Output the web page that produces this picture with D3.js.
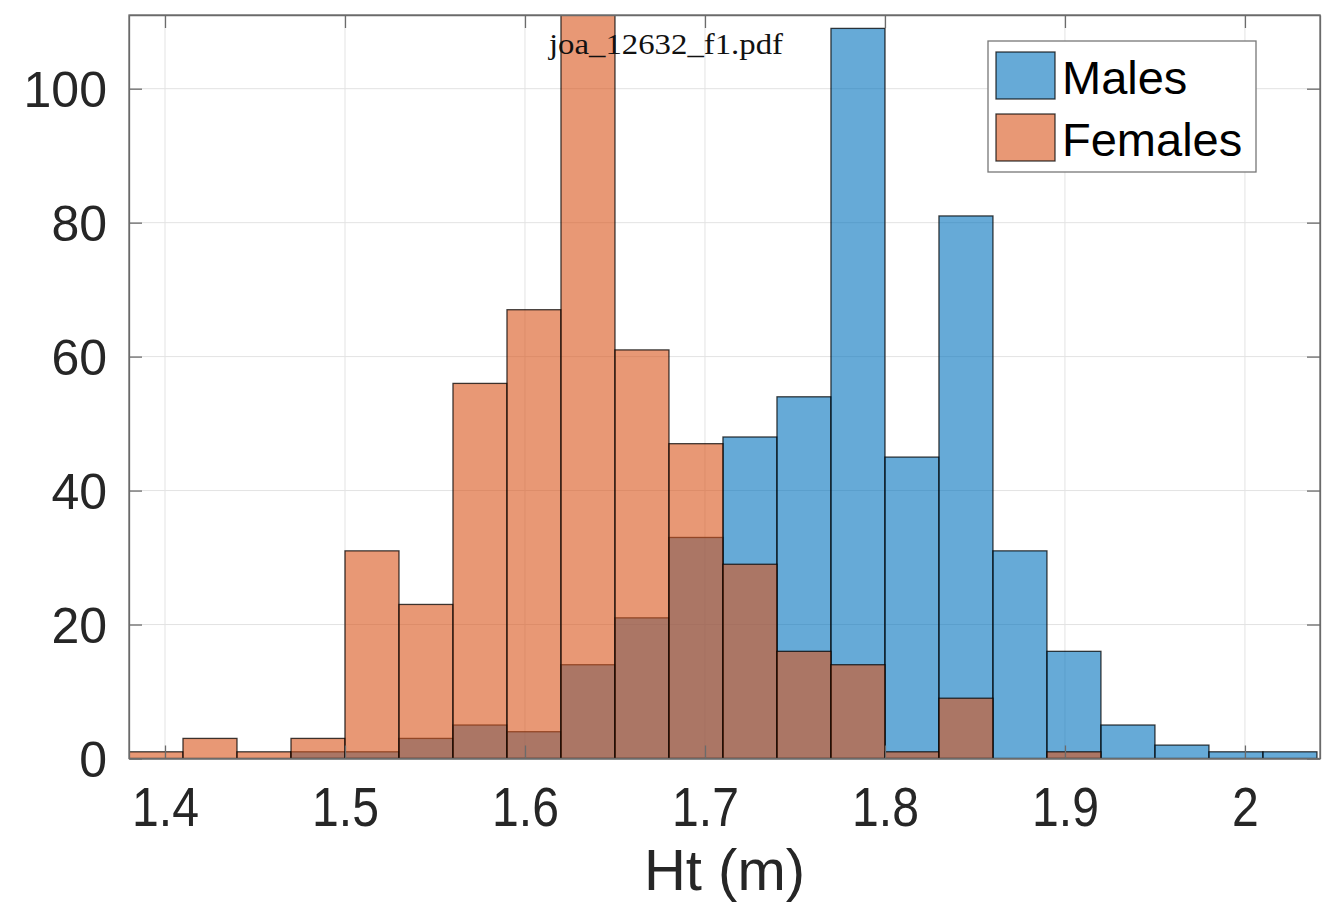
<!DOCTYPE html>
<html>
<head>
<meta charset="utf-8">
<script src="https://cdn.jsdelivr.net/npm/d3@7"></script>
<style>
  body { margin: 0; background: #fff; }
  svg { display: block; font-family: "Liberation Sans", Arial, sans-serif; }
</style>
</head>
<body>
<div id="viz"></div>
<script>
// bin left edges (m), bin width 0.03
const binStarts = [1.38, 1.41, 1.44, 1.47, 1.50, 1.53, 1.56, 1.59, 1.62, 1.65, 1.68,
                   1.71, 1.74, 1.77, 1.80, 1.83, 1.86, 1.89, 1.92, 1.95, 1.98, 2.01];
const binWidth = 0.03;
const males   = [0, 0, 0, 1, 1, 3, 5, 4, 14, 21, 33, 48, 54, 109, 45, 81, 31, 16, 5, 2, 1, 1];
const females = [1, 3, 1, 3, 31, 23, 56, 67, 118, 61, 47, 29, 16, 14, 1, 9, 0, 1, 0, 0, 0, 0];
const seriesNames = ['Males', 'Females'];
const xTicks = [1.4, 1.5, 1.6, 1.7, 1.8, 1.9, 2.0];
const yTicks = [0, 20, 40, 60, 80, 100];

const W = 1331, H = 924;
const margin = {top: 15, right: 11, bottom: 165.5, left: 129};

const svg = d3.select('#viz').append('svg')
    .attr('width', W)
    .attr('height', H);

const x = d3.scaleLinear().domain([1.38, 2.0417]).range([margin.left, W - margin.right]);
const y = d3.scaleLinear().domain([0, 111]).range([H - margin.bottom, margin.top]);

const colors = d3.scaleOrdinal().domain(seriesNames).range(['#0072BD', '#D95319']);

svg.append('defs').append('clipPath').attr('id', 'plotclip')
  .append('rect')
    .attr('x', x.range()[0]).attr('y', y.range()[1])
    .attr('width', x.range()[1] - x.range()[0])
    .attr('height', y.range()[0] - y.range()[1]);

// grid
const grid = svg.append('g').attr('stroke', '#e3e3e3').attr('stroke-width', 1);
grid.selectAll('.gx').data(xTicks).enter().append('line')
    .attr('x1', d => x(d)).attr('x2', d => x(d))
    .attr('y1', y.range()[1]).attr('y2', y.range()[0]);
grid.selectAll('.gy').data(yTicks).enter().append('line')
    .attr('x1', x.range()[0]).attr('x2', x.range()[1])
    .attr('y1', d => y(d)).attr('y2', d => y(d));

// bars
const bars = svg.append('g').attr('clip-path', 'url(#plotclip)');
[males, females].forEach(function(vals, si) {
    bars.append('g')
      .selectAll('rect')
      .data(vals)
      .enter().append('rect')
        .attr('x', (d, i) => x(binStarts[i]))
        .attr('width', (d, i) => x(binStarts[i] + binWidth) - x(binStarts[i]))
        .attr('y', d => y(d))
        .attr('height', d => y(0) - y(d))
        .attr('fill', colors(seriesNames[si]))
        .attr('fill-opacity', 0.6)
        .attr('stroke', '#000')
        .attr('stroke-opacity', 0.75)
        .attr('stroke-width', 1.3);
});

// axes
const axisColor = '#6b6b6b';
const tickLen = 13;
function styleAxis(g) {
    g.select('.domain').attr('stroke', axisColor).attr('stroke-width', 1.3);
    g.selectAll('.tick line').attr('stroke', axisColor).attr('stroke-width', 1.3);
    g.selectAll('text').attr('fill', '#262626');
}

const xAxis = svg.append('g')
    .attr('transform', 'translate(0,' + y(0) + ')')
    .call(d3.axisBottom(x).tickValues(xTicks).tickSize(-tickLen).tickSizeOuter(0)
        .tickFormat(d => String(+d.toFixed(1))).tickPadding(28));
styleAxis(xAxis);
xAxis.selectAll('text')
    .attr('font-size', 56)
    .attr('dy', '0.71em')
    .attr('transform', 'scale(0.86,1)');

svg.append('g')
    .attr('transform', 'translate(0,' + y.range()[1] + ')')
    .call(d3.axisTop(x).tickValues(xTicks).tickSize(-tickLen).tickSizeOuter(0).tickFormat(''))
    .call(styleAxis);

const yAxis = svg.append('g')
    .attr('transform', 'translate(' + x.range()[0] + ',0)')
    .call(d3.axisLeft(y).tickValues(yTicks).tickSize(-tickLen).tickSizeOuter(0).tickPadding(22));
styleAxis(yAxis);
yAxis.selectAll('text').attr('font-size', 50).attr('dy', '0.36em');

svg.append('g')
    .attr('transform', 'translate(' + x.range()[1] + ',0)')
    .call(d3.axisRight(y).tickValues(yTicks).tickSize(-tickLen).tickSizeOuter(0).tickFormat(''))
    .call(styleAxis);

// box
svg.append('rect')
    .attr('x', x.range()[0]).attr('y', y.range()[1])
    .attr('width', x.range()[1] - x.range()[0])
    .attr('height', y.range()[0] - y.range()[1])
    .attr('fill', 'none')
    .attr('stroke', axisColor)
    .attr('stroke-width', 1.3);

// x label
svg.append('text')
    .attr('transform', 'translate(' + ((x.range()[0] + x.range()[1]) / 2) + ',890)')
    .attr('text-anchor', 'middle')
    .attr('font-size', 58)
    .attr('fill', '#262626')
    .text('Ht (m)');

// file name stamp
svg.append('text')
    .attr('x', 549).attr('y', 54)
    .style('font-family', '"Liberation Serif", "DejaVu Serif", serif')
    .attr('font-size', 30)
    .attr('textLength', 234)
    .attr('lengthAdjust', 'spacingAndGlyphs')
    .attr('fill', '#111')
    .text('joa_12632_f1.pdf');

// legend
const legend = svg.append('g').attr('transform', 'translate(988,41)');
legend.append('rect')
    .attr('width', 268).attr('height', 131)
    .attr('fill', '#fff')
    .attr('stroke', '#777')
    .attr('stroke-width', 1.3);
seriesNames.forEach(function(name, i) {
    legend.append('rect')
        .attr('x', 8).attr('y', 11 + i * 62)
        .attr('width', 59).attr('height', 47)
        .attr('fill', colors(name)).attr('fill-opacity', 0.6)
        .attr('stroke', '#000').attr('stroke-opacity', 0.75).attr('stroke-width', 1.3);
    legend.append('text')
        .attr('x', 74).attr('y', 36 + i * 62)
        .attr('dy', '0.36em')
        .attr('font-size', 47)
        .attr('fill', '#000')
        .text(name);
});
</script>
</body>
</html>
